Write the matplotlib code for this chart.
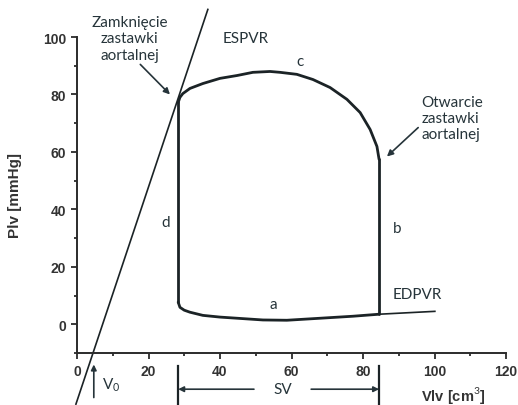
import numpy as np
import matplotlib.pyplot as plt
from matplotlib.ticker import MultipleLocator

plt.rcParams['mathtext.fontset'] = 'custom'
plt.rcParams['mathtext.rm'] = 'Lato'

# pressure-volume loop, left ventricle
# isovolumic relaxation (d)
d_vol = [28.3, 28.3]
d_p = [77.2, 7.7]
# filling (a)
a_vol = [28.3, 28.8, 30.0, 31.6, 35.2, 40.0, 44.8, 52.0, 58.7, 68.0, 77.2, 84.5]
a_p = [7.7, 5.9, 4.9, 4.2, 3.1, 2.5, 2.1, 1.5, 1.4, 2.1, 2.8, 3.5]
# isovolumic contraction (b)
b_vol = [84.5, 84.5]
b_p = [3.5, 57.4]
# ejection (c)
c_vol = [84.5, 83.9, 82.0, 79.2, 75.5, 70.8, 66.0, 61.5, 56.8, 54.0, 49.2, 44.8, 40.0, 35.2, 31.6, 29.6, 28.8, 28.3]
c_p = [57.4, 61.9, 67.8, 73.7, 78.3, 82.4, 85.2, 87.0, 87.7, 88.0, 87.7, 86.6, 85.6, 83.8, 82.1, 80.3, 79.0, 77.2]

# end-systolic and end-diastolic pressure-volume relations
espvr_vol = [-0.3, 36.6]
espvr_p = [-27.8, 109.6]
edpvr_vol = [84.5, 100.1]
edpvr_p = [3.5, 4.5]

v0 = 4.7
esv = 28.3
edv = 84.5

x_ticks = [0, 20, 40, 60, 80, 100, 120]
y_ticks = [0, 20, 40, 60, 80, 100]

line_c = '#1b2326'
text_c = '#26343a'
ann_font = 'Lato'

fig = plt.figure(figsize=(5.18, 4.06), dpi=100)
ax = fig.add_axes([77/518, 1-354/406, (506-77)/518, (354-38)/406])
ax.set_xlim(0, 120)
ax.set_ylim(-10, 100)

for s in ['top', 'right']:
    ax.spines[s].set_visible(False)
for s in ['left', 'bottom']:
    ax.spines[s].set_linewidth(1.4)
    ax.spines[s].set_color('#2b2b2b')

ax.set_xticks(x_ticks)
ax.set_yticks(y_ticks)
ax.xaxis.set_minor_locator(MultipleLocator(10))
ax.yaxis.set_minor_locator(MultipleLocator(10))
ax.tick_params(which='major', length=4.5, width=1.3, color='#2b2b2b')
ax.tick_params(which='minor', length=2.5, width=1.3, color='#2b2b2b')
for lab in ax.get_xticklabels() + ax.get_yticklabels():
    lab.set_fontfamily('Liberation Sans')
    lab.set_fontweight('bold')
    lab.set_fontsize(10)
    lab.set_color('#333333')

# loop
for xs, ys in [(d_vol, d_p), (a_vol, a_p), (b_vol, b_p), (c_vol, c_p)]:
    ax.plot(xs, ys, color=line_c, lw=2.0, solid_capstyle='round', solid_joinstyle='round')
ax.plot(espvr_vol, espvr_p, color=line_c, lw=1.2, clip_on=False)
ax.plot(edpvr_vol, edpvr_p, color=line_c, lw=1.2)

tkw = dict(fontfamily=ann_font, fontsize=11, color=text_c)
ax.annotate('Zamknięcie\nzastawki\naortalnej', xy=(26.0, 80.0), xytext=(14.8, 99.5),
            ha='center', va='center', linespacing=1.2, annotation_clip=False,
            arrowprops=dict(arrowstyle='-|>', color=text_c, lw=1.2, mutation_scale=9,
                            shrinkA=0, shrinkB=0, relpos=(0.6, 0.0)), **tkw)
ax.annotate('Otwarcie\nzastawki\naortalnej', xy=(86.7, 58.4), xytext=(96.3, 71.7),
            ha='left', va='center', linespacing=1.2, annotation_clip=False,
            arrowprops=dict(arrowstyle='-|>', color=text_c, lw=1.2, mutation_scale=9,
                            shrinkA=0, shrinkB=0, relpos=(-0.05, 0.3)), **tkw)
ax.text(40.6, 99.8, 'ESPVR', ha='left', va='center', **tkw)
ax.text(88.4, 10.4, 'EDPVR', ha='left', va='center', **tkw)
ax.text(62.4, 91.5, 'c', ha='center', va='center', **tkw)
ax.text(24.9, 35.5, 'd', ha='center', va='center', **tkw)
ax.text(89.5, 33.4, 'b', ha='center', va='center', **tkw)
ax.text(54.8, 7.0, 'a', ha='center', va='center', **tkw)

# V0 marker under the axis
ax.annotate('', xy=(v0, -14.0), xytext=(v0, -25.5), annotation_clip=False,
            arrowprops=dict(arrowstyle='-|>', color=text_c, lw=1.2, mutation_scale=8,
                            shrinkA=0, shrinkB=0))
ax.text(7.0, -20.8, 'V$_0$', ha='left', va='center', **tkw)

# stroke volume span
ax.plot([esv, esv], [-14.5, -28], color=line_c, lw=1.6, clip_on=False)
ax.plot([edv, edv], [-14.5, -28], color=line_c, lw=1.6, clip_on=False)
ax.annotate('', xy=(esv, -22.6), xytext=(49.5, -22.6), annotation_clip=False,
            arrowprops=dict(arrowstyle='-|>', color=text_c, lw=1.2, mutation_scale=8,
                            shrinkA=0, shrinkB=0))
ax.annotate('', xy=(edv, -22.6), xytext=(65.5, -22.6), annotation_clip=False,
            arrowprops=dict(arrowstyle='-|>', color=text_c, lw=1.2, mutation_scale=8,
                            shrinkA=0, shrinkB=0))
ax.text(57.6, -22.6, 'SV', ha='center', va='center', **tkw)

ax.text(105.3, -24.3, 'Vlv [cm$^3$]', ha='center', va='center', fontfamily='Liberation Sans',
        fontweight='bold', fontsize=10.5, color='#333333')
fig.text(15/518, 1-196/406, 'Plv [mmHg]', rotation=90, ha='center', va='center',
         fontfamily='Liberation Sans', fontweight='bold', fontsize=11, color='#333333')

fig.savefig('out.png', dpi=100)
